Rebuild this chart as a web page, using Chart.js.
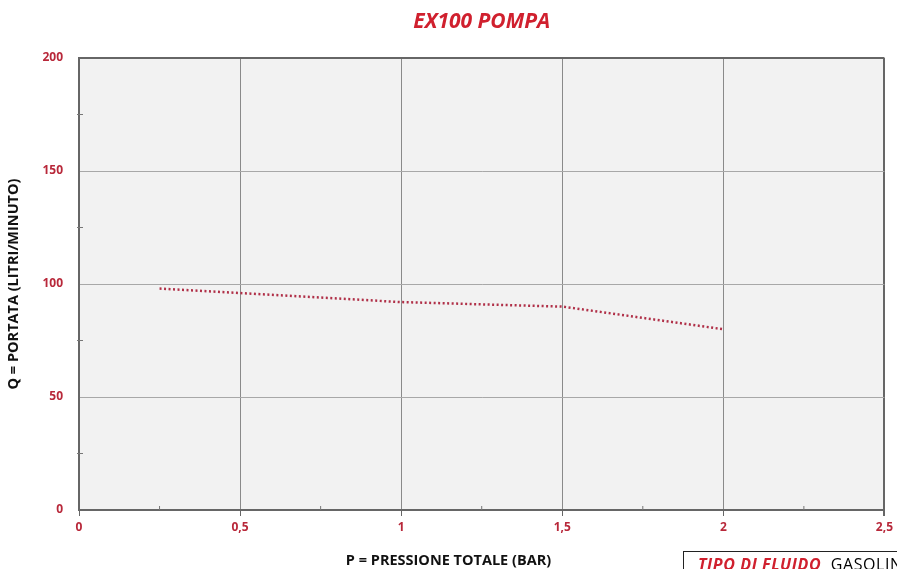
<!DOCTYPE html>
<html>
<head>
<meta charset="utf-8">
<script src="https://cdn.jsdelivr.net/npm/chart.js@4"></script>
<style>
  html, body { margin: 0; padding: 0; background: #fff; overflow: hidden; }
  #wrap { position: relative; width: 897px; height: 569px; }
  #fluid {
    position: absolute; left: 683px; top: 551px; width: 260px; height: 40px;
    border: 1.5px solid #222; box-sizing: border-box;
    font-family: "Open Sans", sans-serif; font-size: 16px; padding: 1px 0 0 14px; white-space: nowrap;
    letter-spacing: 0.6px;
  }
  #fluid b { color: #d0202e; font-style: italic; text-decoration: underline; }
</style>
</head>
<body>
<div id="wrap">
  <canvas id="myChart" width="897" height="569"></canvas>
  <div id="fluid"><b>TIPO DI FLUIDO</b>&nbsp; GASOLINA</div>
</div>
<script>
'use strict';

// data
const pressure = [0.25, 0.5, 1, 1.5, 2];   // bar
const flow = [98, 96, 92, 90, 80];         // litri/minuto
const xTicks = [0, 0.5, 1, 1.5, 2, 2.5];
const yTicks = [0, 50, 100, 150, 200];

const TICK_RED = '#b8283a';

// plot background + minor ticks + titles
const extras = {
  id: 'extras',
  beforeDraw(chart) {
    const a = chart.chartArea;
    const ctx = chart.ctx;
    ctx.save();
    ctx.fillStyle = '#f2f2f2';
    ctx.fillRect(a.left, a.top, a.right - a.left, a.bottom - a.top);
    ctx.restore();
  },
  afterDraw(chart) {
    const a = chart.chartArea;
    const ctx = chart.ctx;
    const xs = chart.scales.x;
    const ys = chart.scales.y;
    ctx.save();
    ctx.strokeStyle = '#777';
    ctx.lineWidth = 1;
    // minor ticks halfway between majors
    for (let i = 0; i < xTicks.length - 1; i++) {
      let px = xs.getPixelForValue((xTicks[i] + xTicks[i + 1]) / 2);
      ctx.beginPath();
      ctx.moveTo(px, a.bottom);
      ctx.lineTo(px, a.bottom - 4);
      ctx.stroke();
    }
    for (let i = 0; i < yTicks.length - 1; i++) {
      let py = ys.getPixelForValue((yTicks[i] + yTicks[i + 1]) / 2);
      ctx.beginPath();
      ctx.moveTo(a.left - 2, py);
      ctx.lineTo(a.left + 4, py);
      ctx.stroke();
    }
    // chart title, centred on the plot
    ctx.fillStyle = '#d0202e';
    ctx.font = 'italic bold 21px "Open Sans", sans-serif';
    ctx.textAlign = 'center';
    ctx.textBaseline = 'middle';
    ctx.fillText('EX100 POMPA', (a.left + a.right) / 2, 22);
    // x axis title sits in the middle of the page, not the plot
    ctx.fillStyle = '#111';
    ctx.font = 'bold 14.5px "Open Sans", sans-serif';
    ctx.fillText('P = PRESSIONE TOTALE (BAR)', chart.width / 2, 561);
    ctx.restore();
  }
};

function gridColor(ctx, last, normal) {
  return ctx.index === last ? '#666' : normal;
}

let config = {
  type: 'line',
  data: {
    datasets: [{
      label: 'Q',
      data: pressure.map((p, i) => ({ x: p, y: flow[i] })),
      borderColor: '#b03048',
      borderWidth: 2.5,
      borderDash: [2, 2.5],
      pointRadius: 0,
      tension: 0,
      fill: false
    }]
  },
  options: {
    responsive: false,
    animation: false,
    layout: { padding: { top: 58, right: 0, left: 0, bottom: 0 } },
    plugins: {
      legend: { display: false },
      tooltip: { enabled: false }
    },
    scales: {
      x: {
        type: 'linear',
        min: 0,
        max: 2.5,
        afterFit(scale) { scale.height = 59; },
        afterBuildTicks(scale) { scale.ticks = xTicks.map(v => ({ value: v })); },
        ticks: {
          color: TICK_RED,
          font: { family: 'Open Sans', weight: 'bold', size: 12 },
          padding: 4,
          maxRotation: 0,
          callback: v => String(v).replace('.', ',')
        },
        grid: {
          color: c => gridColor(c, xTicks.length - 1, '#8a8a8a'),
          lineWidth: c => (c.index === xTicks.length - 1 ? 2 : 1),
          tickLength: 6,
          tickColor: '#666'
        },
        border: { color: '#666', width: 2 },
        title: { display: false }
      },
      y: {
        min: 0,
        max: 200,
        afterFit(scale) { scale.width = 79; },
        afterBuildTicks(scale) { scale.ticks = yTicks.map(v => ({ value: v })); },
        ticks: {
          color: TICK_RED,
          font: { family: 'Open Sans', weight: 'bold', size: 12 },
          padding: 16
        },
        grid: {
          color: c => gridColor(c, yTicks.length - 1, '#a8a8a8'),
          lineWidth: c => (c.index === yTicks.length - 1 ? 2 : 1),
          tickLength: 0
        },
        border: { color: '#666', width: 2 },
        title: {
          display: true,
          text: 'Q = PORTATA (LITRI/MINUTO)',
          color: '#111',
          font: { family: 'Open Sans', weight: 'bold', size: 14.5 },
          padding: { top: 5, bottom: 0 }
        }
      }
    }
  },
  plugins: [extras]
};

const ctx = document.getElementById('myChart').getContext('2d');
const myChart = new Chart(ctx, config);
</script>
</body>
</html>
